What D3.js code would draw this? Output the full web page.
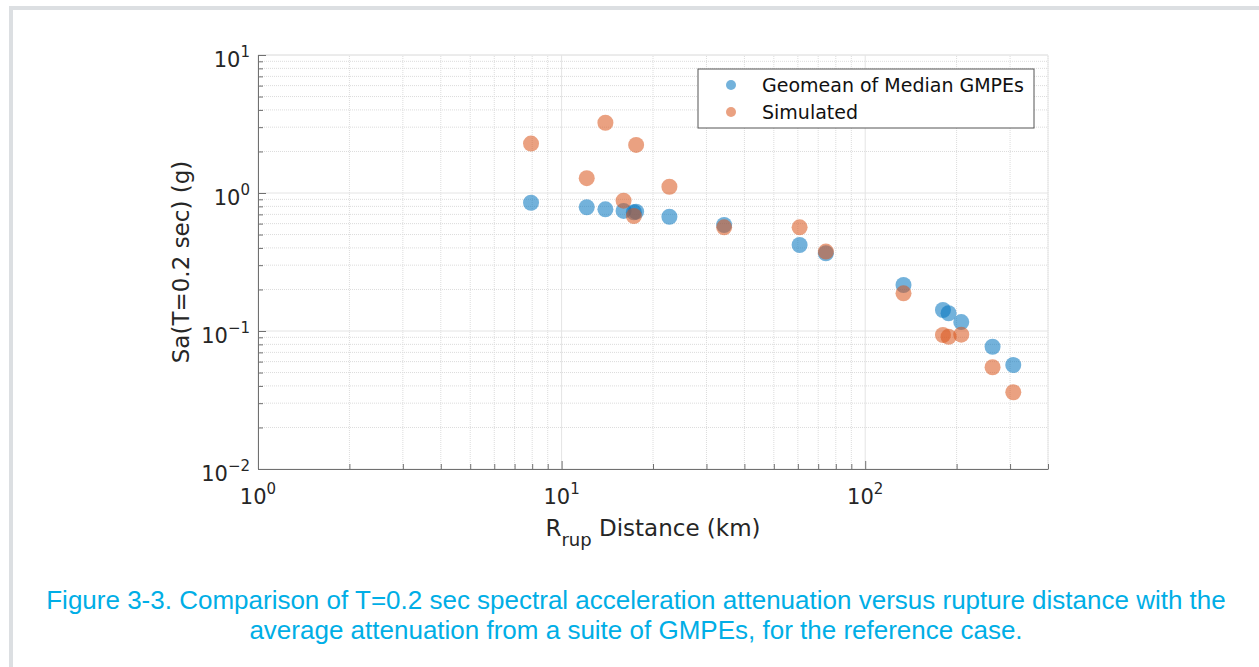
<!DOCTYPE html>
<html>
<head>
<meta charset="utf-8">
<script src="https://cdn.jsdelivr.net/npm/d3@7"></script>
<style>
  body { margin: 0; background: #fff; }
  svg { display: block; }
</style>
</head>
<body>
<div id="chart"></div>
<script>
// rupture distances (km)
const distances = [7.93, 12.1, 13.94, 16.0, 17.3, 17.6, 22.65, 34.3, 60.8, 74.2, 133.7, 180.3, 188.2, 207.2, 262.7, 307.4];
// Sa values (g)
const geomeanSa = [0.85, 0.788, 0.762, 0.741, 0.725, 0.732, 0.673, 0.586, 0.42, 0.366, 0.2155, 0.142, 0.1344, 0.116, 0.0769, 0.0567];
const simulatedSa = [2.28, 1.28, 3.23, 0.88, 0.681, 2.23, 1.11, 0.564, 0.564, 0.376, 0.1876, 0.0935, 0.0909, 0.094, 0.0546, 0.036];

const seriesNames = ["Geomean of Median GMPEs", "Simulated"];
const seriesColors = ["#0072BD", "#D95319"];
const xTickExps = [0, 1, 2];
const yTickExps = [1, 0, -1, -2];

const width = 1259, height = 667;
const margin = {left: 258, right: 211, top: 55, bottom: 198};

const svg = d3.select("#chart").append("svg")
    .attr("width", width)
    .attr("height", height);

// page frame
svg.append("rect").attr("x", 9).attr("y", 6).attr("width", 4).attr("height", height).attr("fill", "#dcdfe2");
svg.append("rect").attr("x", 9).attr("y", 6).attr("width", width).attr("height", 4).attr("fill", "#dcdfe2");

const x = d3.scaleLog().domain([1, 400]).range([margin.left, width - margin.right]);
const y = d3.scaleLog().domain([0.01, 10]).range([height - margin.bottom, margin.top]);

const x0 = x.range()[0], x1 = x.range()[1];
const y0 = y.range()[0], y1 = y.range()[1];

// minor grid
let xMinor = [], xMajor = [];
for (let e = 0; e <= 2; e++) {
    for (let m = 1; m <= 9; m++) {
        let v = m * Math.pow(10, e);
        if (v > 400) break;
        if (m == 1) xMajor.push(v); else xMinor.push(v);
    }
}
let yMinor = [], yMajor = [];
for (let e = -2; e <= 1; e++) {
    for (let m = 1; m <= 9; m++) {
        let v = m * Math.pow(10, e);
        if (v > 10) break;
        if (m == 1) yMajor.push(v); else yMinor.push(v);
    }
}

const grid = svg.append("g");
grid.selectAll(".xminor").data(xMinor).enter().append("line")
    .attr("x1", d => x(d)).attr("x2", d => x(d))
    .attr("y1", y0).attr("y2", y1)
    .attr("stroke", "#dcdcdc").attr("stroke-dasharray", "1,1").attr("stroke-width", 1);
grid.selectAll(".yminor").data(yMinor).enter().append("line")
    .attr("y1", d => y(d)).attr("y2", d => y(d))
    .attr("x1", x0).attr("x2", x1)
    .attr("stroke", "#dcdcdc").attr("stroke-dasharray", "1,1").attr("stroke-width", 1);
grid.selectAll(".xmajor").data(xMajor).enter().append("line")
    .attr("x1", d => x(d)).attr("x2", d => x(d))
    .attr("y1", y0).attr("y2", y1)
    .attr("stroke", "#e4e4e4").attr("stroke-width", 1);
grid.selectAll(".ymajor").data(yMajor).enter().append("line")
    .attr("y1", d => y(d)).attr("y2", d => y(d))
    .attr("x1", x0).attr("x2", x1)
    .attr("stroke", "#e4e4e4").attr("stroke-width", 1);

// faint box top/right
svg.append("line").attr("x1", x0).attr("x2", x1).attr("y1", y1).attr("y2", y1).attr("stroke", "#e6e6e6");
svg.append("line").attr("x1", x1).attr("x2", x1).attr("y1", y0).attr("y2", y1).attr("stroke", "#e6e6e6");

// axes with inward ticks
const xAxis = d3.axisBottom(x).tickValues(xMajor.concat(xMinor)).tickFormat("")
    .tickSizeInner(-5).tickSizeOuter(0);
const gx = svg.append("g").attr("transform", `translate(0,${y0})`).call(xAxis);
gx.selectAll(".tick line").filter(d => xMajor.includes(d)).attr("y2", -8);

const yAxis = d3.axisLeft(y).tickValues(yMajor.concat(yMinor)).tickFormat("")
    .tickSizeInner(-5).tickSizeOuter(0);
const gy = svg.append("g").attr("transform", `translate(${x0},0)`).call(yAxis);
gy.selectAll(".tick line").filter(d => yMajor.includes(d)).attr("x2", 8);

[gx, gy].forEach(g => {
    g.select(".domain").attr("stroke", "#707070");
    g.selectAll(".tick line").attr("stroke", "#707070");
});

const font = "'DejaVu Sans', sans-serif";

// tick labels as powers of ten
svg.selectAll(".xlab").data(xTickExps).enter().append("text")
    .attr("x", d => x(Math.pow(10, d)))
    .attr("y", y0 + 35)
    .attr("text-anchor", "middle")
    .attr("font-family", font).attr("font-size", 21).attr("fill", "#262626")
    .each(function(d) {
        let t = d3.select(this);
        t.append("tspan").text("10");
        t.append("tspan").attr("dy", -10).attr("font-size", 15).text(d);
    });

svg.selectAll(".ylab").data(yTickExps).enter().append("text")
    .attr("x", x0 - 8)
    .attr("y", d => y(Math.pow(10, d)) + 12)
    .attr("text-anchor", "end")
    .attr("font-family", font).attr("font-size", 21).attr("fill", "#262626")
    .each(function(d) {
        let t = d3.select(this);
        t.append("tspan").text("10");
        t.append("tspan").attr("dy", -10).attr("font-size", 15).text(d < 0 ? "\u2212" + (-d) : d);
    });

// axis titles
const xt = svg.append("text")
    .attr("x", (x0 + x1) / 2).attr("y", y0 + 67)
    .attr("text-anchor", "middle")
    .attr("font-family", font).attr("font-size", 23).attr("fill", "#262626");
xt.append("tspan").text("R");
xt.append("tspan").attr("dy", 10).attr("font-size", 18).text("rup");
xt.append("tspan").attr("dy", -10).text(" Distance (km)");

svg.append("text")
    .attr("transform", `translate(189,${(y0 + y1) / 2}) rotate(-90)`)
    .attr("text-anchor", "middle")
    .attr("font-family", font).attr("font-size", 23).attr("fill", "#262626")
    .text("Sa(T=0.2 sec) (g)");

// points
const series = [geomeanSa, simulatedSa];
series.forEach((vals, i) => {
    svg.append("g").selectAll("circle")
        .data(distances.map((d, k) => ({x: d, y: vals[k]})))
        .enter().append("circle")
        .attr("cx", d => x(d.x))
        .attr("cy", d => y(d.y))
        .attr("r", 8)
        .attr("fill", seriesColors[i])
        .attr("fill-opacity", 0.55);
});

// legend
const legend = svg.append("g").attr("transform", "translate(698,69)");
legend.append("rect").attr("width", 336).attr("height", 59)
    .attr("fill", "#fff").attr("stroke", "#555").attr("stroke-width", 1);
seriesNames.forEach((name, i) => {
    legend.append("circle").attr("cx", 33).attr("cy", 16 + i * 27).attr("r", 5)
        .attr("fill", seriesColors[i]).attr("fill-opacity", 0.55);
    legend.append("text").attr("x", 64).attr("y", 23 + i * 27)
        .attr("font-family", font).attr("font-size", 19).attr("fill", "#111")
        .text(name);
});

// caption
const caption = ["Figure 3-3. Comparison of T=0.2 sec spectral acceleration attenuation versus rupture distance with the",
                 "average attenuation from a suite of GMPEs, for the reference case."];
svg.selectAll(".cap").data(caption).enter().append("text")
    .attr("x", 636).attr("y", (d, i) => 609 + i * 30)
    .attr("text-anchor", "middle")
    .attr("font-family", "'Liberation Sans', Arial, sans-serif").attr("font-size", 26)
    .attr("fill", "#00aee6")
    .text(d => d);
</script>
</body>
</html>
